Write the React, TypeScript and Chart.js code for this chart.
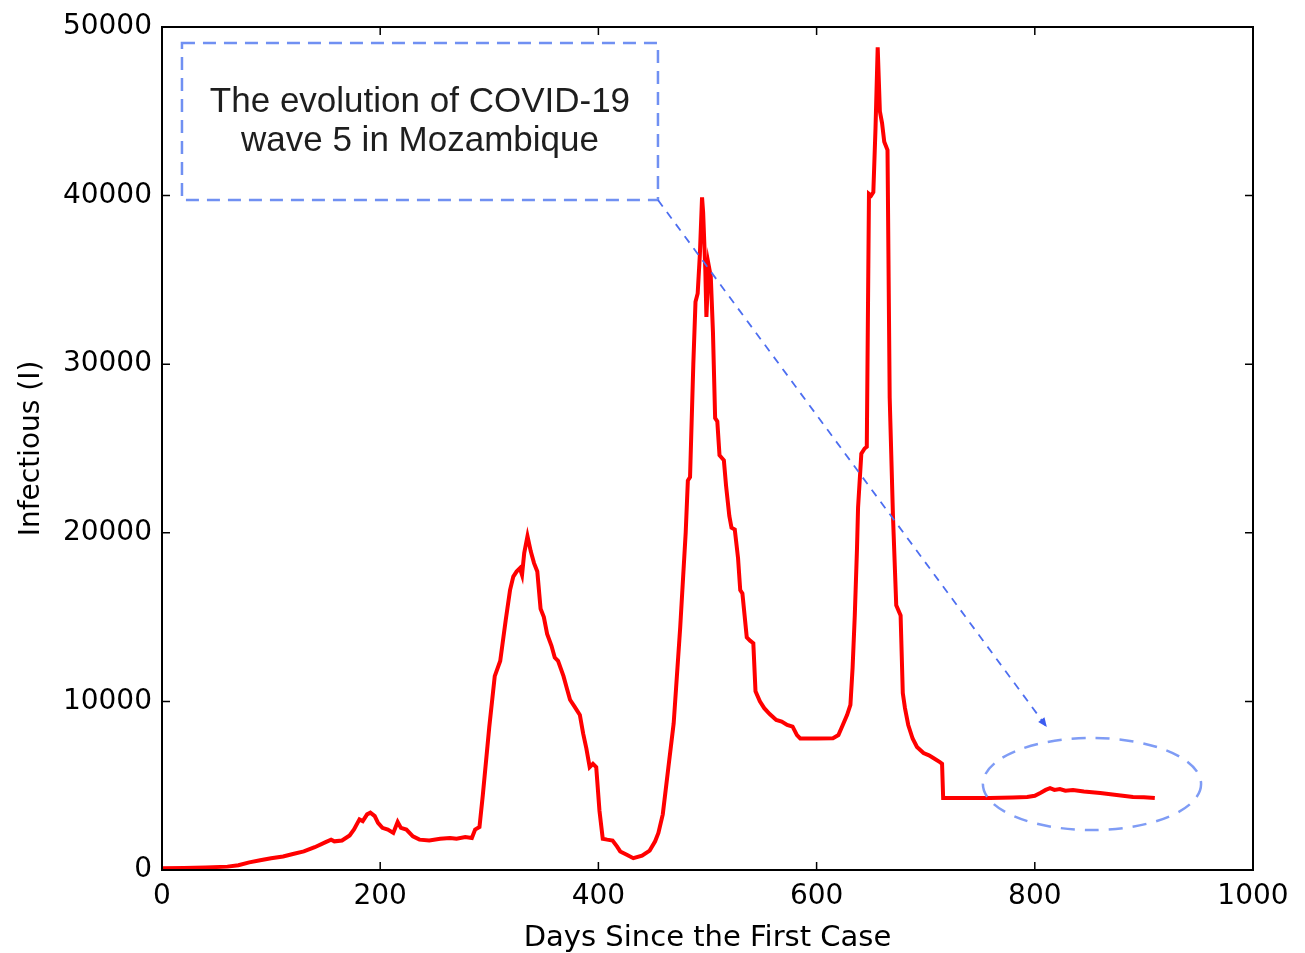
import React, { useEffect, useRef } from "react";
import { Chart, registerables } from "chart.js";

Chart.register(...registerables);

// ---- data ----
const days = [
  0, 20, 40, 60, 70, 80, 90, 100, 111, 120, 130, 140, 150, 155, 158, 165, 172, 176, 181, 184, 188, 191, 195, 198, 202, 207,
  212, 216, 219, 224, 230, 236, 245, 255, 264, 270, 278, 284, 287, 291,
  294, 300, 305, 310, 315, 319, 322, 325, 328, 330, 332, 335, 338, 341, 344, 347, 350, 353, 357, 360, 363, 368, 371, 374,
  378, 383, 386, 389, 392, 395, 398, 401, 404, 408, 413, 417, 420, 426, 432, 440, 447, 452, 455, 459, 464, 469, 475, 480,
  482, 484, 487, 489, 491, 493, 495, 496, 498, 499, 501, 503, 505, 507, 509, 511, 515, 517, 520, 522, 525, 528, 530, 532,
  536, 539, 542, 544, 548, 552, 557, 563, 568, 573, 578, 582, 585, 600, 615, 620, 624, 628, 631, 633, 635, 637, 638, 641,
  644, 646, 648, 650, 652, 654, 656, 658, 660, 662, 665, 667, 670, 673, 677, 679, 681, 684, 688, 692, 698, 703, 707, 713,
  715, 716, 740, 759, 780, 793, 800, 805, 810, 814, 818, 823, 828, 835, 845, 860, 875, 890, 900, 910,
];
const infectious = [
  100, 120, 150, 200, 280, 450, 580, 700, 800, 950, 1100, 1350, 1650, 1800, 1700, 1750, 2050, 2400, 3000, 2900, 3300, 3400,
  3200, 2800, 2500, 2400, 2200, 2850, 2500, 2400, 2000, 1800, 1750, 1850, 1900, 1850, 1950, 1900, 2400, 2550,
  4400, 8500, 11500, 12400, 14800, 16600, 17400, 17700, 17900, 17500, 18800, 19800, 18900, 18200, 17700, 15500, 15000,
  14000, 13300, 12600, 12400, 11500, 10800, 10100, 9700, 9200, 8100, 7200, 6100, 6300, 6100, 3500, 1850, 1800, 1750, 1400,
  1100, 900, 700, 850, 1150, 1700, 2200, 3300, 6000, 8700, 14400, 20000, 23100, 23300, 30000, 33700, 34200, 36500, 39900,
  39000, 35600, 32800, 35900, 35200, 31900, 26800, 26600, 24600, 24300, 22800, 21000, 20300, 20200, 18500, 16600, 16400,
  13800, 13600, 13450, 10600, 10000, 9600, 9250, 8900, 8800, 8600, 8500, 8000, 7800, 7800, 7820, 8000, 8600, 9200, 9800,
  12000, 15100, 19000, 21500, 24700, 25000, 25100, 40100, 40000, 40200, 44000, 48800, 45000, 44300, 43200, 42700, 28000,
  21000, 15700, 15100, 10500, 9600, 8600, 7800, 7300, 6940, 6800, 6640, 6400, 6300, 4270, 4270, 4270, 4300, 4330, 4400,
  4570, 4750, 4860, 4750, 4800, 4700, 4740, 4650, 4570, 4450, 4330, 4320, 4270,
];
const xTicks = [0, 200, 400, 600, 800, 1000];
const yTicks = [0, 10000, 20000, 30000, 40000, 50000];
const xTitle = "Days Since the First Case";
const yTitle = "Infectious (I)";
const noteLines = ["The evolution of COVID-19", "wave 5 in Mozambique"];
// annotation geometry in data units
const noteBox = [18.3, 454.6, 39740, 49050]; // xMin, xMax, yMin, yMax
const arrowEnd = [811, 8480];
const ellipseSpec = [852.4, 5100, 100, 2730]; // cx, cy, rx(days), ry(value)

export default function App() {
  const ref = useRef<HTMLCanvasElement | null>(null);

  useEffect(() => {
    document.body.style.margin = "0";
    const canvas = ref.current;
    if (!canvas) return;

    const framePlugin = {
      id: "framePlugin",
      afterDatasetsDraw(chart: any) {
        const { ctx, scales } = chart;
        const xs = scales.x;
        const ys = scales.y;
        ctx.save();
        // dashed note box
        const bx0 = xs.getPixelForValue(noteBox[0]);
        const bx1 = xs.getPixelForValue(noteBox[1]);
        const by0 = ys.getPixelForValue(noteBox[3]);
        const by1 = ys.getPixelForValue(noteBox[2]);
        ctx.setLineDash([13, 8]);
        ctx.lineWidth = 2.5;
        ctx.strokeStyle = "#7090f2";
        ctx.strokeRect(bx0, by0, bx1 - bx0, by1 - by0);
        // text
        ctx.setLineDash([]);
        ctx.fillStyle = "#1e1e1e";
        ctx.font = '35px "Liberation Sans", Arial, sans-serif';
        ctx.textAlign = "center";
        ctx.textBaseline = "middle";
        const cx = (bx0 + bx1) / 2;
        const cy = (by0 + by1) / 2;
        ctx.fillText(noteLines[0], cx, cy - 19);
        ctx.fillText(noteLines[1], cx, cy + 20);
        // arrow
        const ax1 = xs.getPixelForValue(arrowEnd[0]);
        const ay1 = ys.getPixelForValue(arrowEnd[1]);
        ctx.setLineDash([8, 7]);
        ctx.lineWidth = 1.8;
        ctx.strokeStyle = "#4d6ef0";
        ctx.beginPath();
        ctx.moveTo(bx1, by1);
        ctx.lineTo(ax1, ay1);
        ctx.stroke();
        ctx.setLineDash([]);
        const ang = Math.atan2(ay1 - by1, ax1 - bx1);
        const hl = 10;
        ctx.fillStyle = "#3c5cf0";
        ctx.beginPath();
        ctx.moveTo(ax1, ay1);
        ctx.lineTo(ax1 - hl * Math.cos(ang - 0.4), ay1 - hl * Math.sin(ang - 0.4));
        ctx.lineTo(ax1 - hl * Math.cos(ang + 0.4), ay1 - hl * Math.sin(ang + 0.4));
        ctx.closePath();
        ctx.fill();
        // ellipse
        const ex = xs.getPixelForValue(ellipseSpec[0]);
        const ey = ys.getPixelForValue(ellipseSpec[1]);
        const erx = Math.abs(xs.getPixelForValue(ellipseSpec[0] + ellipseSpec[2]) - ex);
        const ery = Math.abs(ys.getPixelForValue(ellipseSpec[1] + ellipseSpec[3]) - ey);
        ctx.setLineDash([14, 10]);
        ctx.lineWidth = 2.5;
        ctx.strokeStyle = "#7f9cf5";
        ctx.beginPath();
        ctx.ellipse(ex, ey, erx, ery, 0, 0, Math.PI * 2);
        ctx.stroke();
        ctx.restore();
      },
      afterDraw(chart: any) {
        const { ctx, chartArea, scales } = chart;
        const { left, right, top, bottom } = chartArea;
        ctx.save();
        ctx.strokeStyle = "#000000";
        ctx.lineWidth = 1.5;
        const tl = 8;
        ctx.beginPath();
        xTicks.forEach((v) => {
          const px = scales.x.getPixelForValue(v);
          ctx.moveTo(px, bottom);
          ctx.lineTo(px, bottom - tl);
          ctx.moveTo(px, top);
          ctx.lineTo(px, top + tl);
        });
        yTicks.forEach((v) => {
          const py = scales.y.getPixelForValue(v);
          ctx.moveTo(left, py);
          ctx.lineTo(left + tl, py);
          ctx.moveTo(right, py);
          ctx.lineTo(right - tl, py);
        });
        ctx.stroke();
        ctx.lineWidth = 2;
        ctx.strokeRect(left, top, right - left, bottom - top);
        ctx.restore();
      },
    };

    const chart = new Chart(canvas, {
      type: "line",
      data: {
        datasets: [
          {
            data: days.map((d, i) => ({ x: d, y: infectious[i] })),
            borderColor: "#ff0000",
            borderWidth: 4,
            pointRadius: 0,
            tension: 0,
            fill: false,
          },
        ],
      },
      options: {
        animation: false,
        responsive: false,
        layout: { padding: { top: 27, right: 52, left: 0, bottom: 0 } },
        plugins: { legend: { display: false }, tooltip: { enabled: false } },
        scales: {
          x: {
            type: "linear",
            min: 0,
            max: 1000,
            afterBuildTicks: (s: any) => {
              s.ticks = xTicks.map((v) => ({ value: v }));
            },
            afterFit: (s: any) => {
              s.height = 83;
            },
            grid: { display: false, drawTicks: false },
            border: { display: false },
            ticks: {
              padding: 10,
              color: "#000",
              font: { family: '"DejaVu Sans", sans-serif', size: 28 },
              maxRotation: 0,
              callback: (v: any) => String(v),
            },
            title: {
              display: true,
              text: xTitle,
              color: "#000",
              font: { family: '"DejaVu Sans", sans-serif', size: 29 },
              padding: { top: 0, bottom: -3 },
            },
          },
          y: {
            type: "linear",
            min: 0,
            max: 50000,
            afterBuildTicks: (s: any) => {
              s.ticks = yTicks.map((v) => ({ value: v }));
            },
            afterFit: (s: any) => {
              s.width = 162;
            },
            grid: { display: false, drawTicks: false },
            border: { display: false },
            ticks: {
              padding: 10,
              color: "#000",
              font: { family: '"DejaVu Sans", sans-serif', size: 28 },
              callback: (v: any) => String(v),
            },
            title: {
              display: true,
              text: yTitle,
              color: "#000",
              font: { family: '"DejaVu Sans", sans-serif', size: 28 },
              padding: { top: 15, bottom: 0 },
            },
          },
        },
      },
      plugins: [framePlugin],
    });

    return () => chart.destroy();
  }, []);

  return (
    <div style={{ position: "absolute", left: 0, top: 0, width: 1305, height: 953, background: "#fff" }}>
      <canvas ref={ref} width={1305} height={953} style={{ display: "block" }} />
    </div>
  );
}
